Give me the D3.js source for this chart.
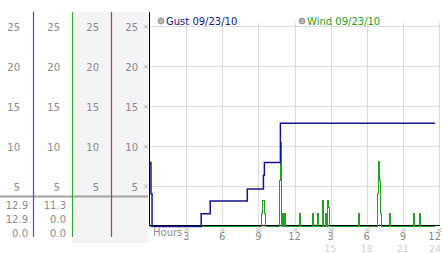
<!DOCTYPE html>
<html>
<head>
<meta charset="utf-8">
<script src="https://cdn.jsdelivr.net/npm/d3@7"></script>
<style>
body { margin: 0; background: #fff; }
text { font-family: "DejaVu Sans", Verdana, sans-serif; font-size: 10px; }
</style>
</head>
<body>
<div id="chart"></div>
<script>
// values
var yTicks = [5, 10, 15, 20, 25];
var hourTicks = [3, 6, 9, 12, 15, 18, 21, 24];
var hourLabels = ["3", "6", "9", "12", "3", "6", "9", "12"];
var hourLabels24 = ["", "", "", "", "15", "18", "21", "24"];

var legendNames = ["Gust 09/23/10", "Wind 09/23/10"];

// gust: step changes [hour, mph]
var gustHours = [0, 0.08, 0.17, 4.25, 5.0, 8.08, 9.42, 9.5, 10.83, 23.67];
var gustMph   = [8.0, 4.1, 0, 1.6, 3.2, 4.7, 6.4, 8.0, 12.9, 12.9];

// wind: non-calm 5 minute readings [hour, mph]
var windReadings = [
[9.25, 1.6], [9.33, 3.2], [9.42, 3.2], [9.5, 1.6],
[10.75, 5.7], [10.83, 10.5],
[11.0, 1.6], [11.17, 1.6],
[12.42, 1.6],
[13.5, 1.6], [13.92, 1.6], [14.33, 3.2], [14.58, 1.6], [14.75, 3.2], [14.83, 2.4],
[17.33, 1.6],
[18.92, 4.1], [19.0, 8.1], [19.08, 5.7], [19.17, 1.6],
[19.92, 1.6],
[21.92, 1.6],
[22.42, 1.6]];
var windEnd = 23.67;

var summaryGust = ["12.9", "12.9", "0.0"];
var summaryWind = ["11.3", "0.0", "0.0"];

var colors = {gust: "#14148c", wind: "#22a022", red: "#c43a3a", blue: "#3354cc", green: "#36a636"};

var svg = d3.select("#chart")
	.append("svg")
		.attr("width", 442)
		.attr("height", 253);

var x = d3.scaleLinear()
	.domain([0, 24])
	.range([150, 439]);

var y = d3.scaleLinear()
	.domain([0, 25])
	.range([226.5, 26.5]);

// ---- left summary panel
svg.append("rect")
	.attr("x", 72).attr("y", 12)
	.attr("width", 76).attr("height", 231)
	.attr("fill", "#f4f4f6");

var colRight = [20, 60, 99, 138];
colRight.forEach(function(cx) {
	svg.append("g")
		.selectAll("text")
		.data(yTicks)
		.join("text")
			.attr("x", cx)
			.attr("y", function(d) { return y(d) + 4; })
			.attr("text-anchor", "end")
			.attr("fill", "#8a8a8a")
			.text(function(d) { return d; });
});

svg.append("line")
	.attr("x1", 0).attr("x2", 148)
	.attr("y1", 196.5).attr("y2", 196.5)
	.attr("stroke", "#a4a4a4")
	.attr("stroke-width", 2);

[[summaryGust, 28], [summaryWind, 66]].forEach(function(s) {
	svg.append("g")
		.selectAll("text")
		.data(s[0])
		.join("text")
			.attr("x", s[1])
			.attr("y", function(d, i) { return 208.5 + i * 14; })
			.attr("text-anchor", "end")
			.attr("fill", "#8a8a8a")
			.text(function(d) { return d; });
});

[[33.5, colors.blue], [72.5, colors.green], [111.5, colors.red]].forEach(function(c) {
	svg.append("line")
		.attr("x1", c[0]).attr("x2", c[0])
		.attr("y1", 12).attr("y2", 237)
		.attr("stroke", c[1])
		.attr("stroke-width", 1.2);
});

// ---- grid
svg.append("g")
	.selectAll("line")
	.data(yTicks)
	.join("line")
		.attr("x1", 150).attr("x2", 440)
		.attr("y1", function(d) { return y(d); })
		.attr("y2", function(d) { return y(d); })
		.attr("stroke", "#dcdcdc");

svg.append("g")
	.selectAll("line")
	.data(hourTicks)
	.join("line")
		.attr("x1", function(d) { return Math.round(x(d)) + 0.5; })
		.attr("x2", function(d) { return Math.round(x(d)) + 0.5; })
		.attr("y1", 23).attr("y2", 225)
		.attr("stroke", "#dcdcdc");

// little x tick marks
function tickMark(g, cx, cy) {
	g.append("path")
		.attr("d", "M" + (cx - 2) + "," + (cy - 2) + "l4,4M" + (cx + 2) + "," + (cy - 2) + "l-4,4")
		.attr("stroke", "#a8a8a8")
		.attr("stroke-width", 0.9)
		.attr("fill", "none");
}
var marks = svg.append("g");
yTicks.forEach(function(d) { tickMark(marks, 146, y(d)); });
hourTicks.forEach(function(d) { tickMark(marks, Math.round(x(d)) + 0.5, 230); });

// ---- axes lines
svg.append("line")
	.attr("x1", 149.5).attr("x2", 149.5)
	.attr("y1", 12).attr("y2", 226)
	.attr("stroke", "#000");
svg.append("line")
	.attr("x1", 149).attr("x2", 440)
	.attr("y1", 225.5).attr("y2", 225.5)
	.attr("stroke", "#000");

// ---- wind series
var windPts = [{h: 0, v: 0}];
windReadings.forEach(function(r, i) {
	windPts.push({h: r[0], v: r[1]});
	var next = windReadings[i + 1];
	if (!next || next[0] - r[0] > 0.1) windPts.push({h: r[0] + 1 / 12, v: 0});
});
windPts.push({h: windEnd, v: 0});

svg.append("path")
	.datum(windPts)
	.attr("fill", "none")
	.attr("stroke", colors.wind)
	.attr("stroke-width", 1)
	.attr("shape-rendering", "crispEdges")
	.attr("d", d3.line()
		.curve(d3.curveStepAfter)
		.x(function(d) { return x(d.h); })
		.y(function(d) { return y(d.v); })
	);

// ---- gust series
var gustPts = gustHours.map(function(h, i) { return {h: h, v: gustMph[i]}; });
svg.append("path")
	.datum(gustPts)
	.attr("fill", "none")
	.attr("stroke", colors.gust)
	.attr("stroke-width", 1.5)
	.attr("d", d3.line()
		.curve(d3.curveStepAfter)
		.x(function(d) { return x(d.h); })
		.y(function(d) { return y(d.v); })
	);

// ---- legend
[[161, colors.gust], [302, colors.wind]].forEach(function(l, i) {
	svg.append("circle")
		.attr("cx", l[0]).attr("cy", 21)
		.attr("r", 3)
		.attr("fill", "#b4b4b4")
		.attr("stroke", "#8c8c8c")
		.attr("stroke-width", 0.8);
	svg.append("text")
		.attr("x", l[0] + 5)
		.attr("y", 24.5)
		.attr("fill", l[1])
		.text(legendNames[i]);
});

// ---- hour labels
svg.append("text")
	.attr("x", 153).attr("y", 236)
	.attr("fill", "#8a8a8a")
	.text("Hours");

var last = hourTicks.length - 1;
svg.append("g")
	.selectAll("text")
	.data(hourTicks)
	.join("text")
		.attr("x", function(d, i) { return i == last ? 441 : x(d); })
		.attr("y", 240)
		.attr("text-anchor", function(d, i) { return i == last ? "end" : "middle"; })
		.attr("fill", "#8a8a8a")
		.text(function(d, i) { return hourLabels[i]; });

svg.append("g")
	.selectAll("text")
	.data(hourTicks)
	.join("text")
		.attr("x", function(d, i) { return i == last ? 441 : x(d); })
		.attr("y", 251.5)
		.attr("text-anchor", function(d, i) { return i == last ? "end" : "middle"; })
		.attr("fill", "#d0d0d0")
		.style("font-size", "9.5px")
		.text(function(d, i) { return hourLabels24[i]; });
</script>
</body>
</html>
